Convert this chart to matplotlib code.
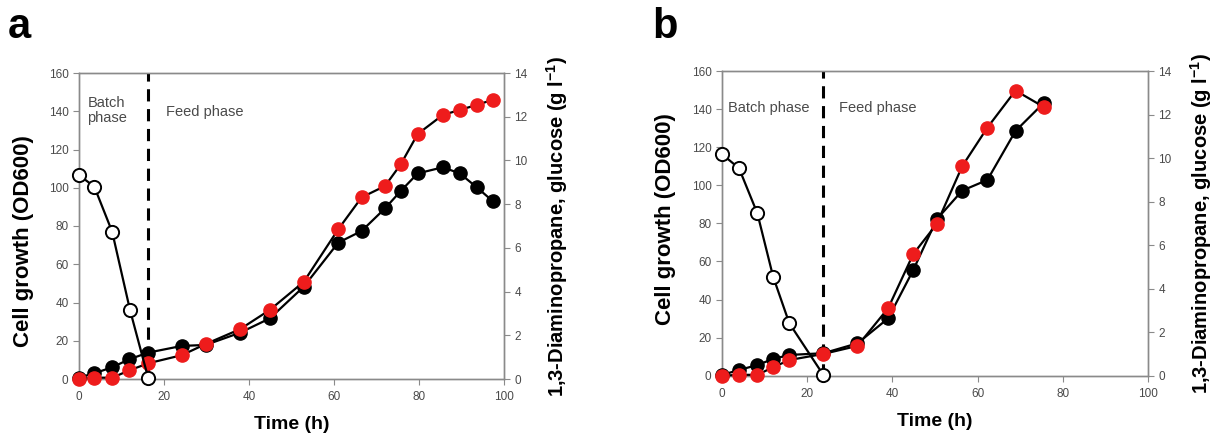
import matplotlib
matplotlib.use("Agg")
import matplotlib.pyplot as plt

plt.rcParams['font.family'] = ['Liberation Sans', 'DejaVu Sans']
plt.rcParams['mathtext.fontset'] = 'custom'
plt.rcParams['mathtext.rm'] = 'Liberation Sans'
plt.rcParams['mathtext.bf'] = 'Liberation Sans:bold'

# ---------------- Data ----------------
# Panel a
time_a = [0, 3.6, 7.8, 11.8, 16.3, 24.2, 29.8, 37.9, 44.9, 52.9, 61.0, 66.5, 72.0, 75.7, 79.7, 85.6, 89.6, 93.6, 97.3]
od_a = [0.7, 3.0, 6.1, 10.3, 13.8, 17.3, 17.8, 24.2, 31.7, 48.3, 71.3, 77.4, 89.2, 98.3, 107.5, 110.7, 107.5, 100.2, 93.1]
dap_a = [0.0, 0.06, 0.06, 0.39, 0.72, 1.09, 1.60, 2.28, 3.16, 4.45, 6.85, 8.31, 8.83, 9.82, 11.21, 12.08, 12.31, 12.54, 12.77]
glc_time_a = [0, 3.6, 7.8, 12.0, 16.3]
glc_a = [9.33, 8.80, 6.74, 3.16, 0.03]
feed_start_a = 16.3

# Panel b
time_b = [0, 4.0, 8.3, 12.0, 15.8, 23.8, 31.8, 39.0, 44.9, 50.4, 56.4, 62.3, 68.9, 75.6]
od_b = [0.4, 3.0, 5.6, 8.8, 10.9, 11.8, 17.0, 30.1, 55.5, 82.1, 97.2, 102.8, 128.5, 143.4]
dap_b = [0.0, 0.04, 0.04, 0.39, 0.72, 1.00, 1.37, 3.10, 5.59, 6.97, 9.63, 11.40, 13.10, 12.34]
glc_time_b = [0, 4.0, 8.3, 12.0, 15.8, 23.8]
glc_b = [10.18, 9.53, 7.46, 4.55, 2.41, 0.03]
feed_start_b = 23.8

x_ticks = [0, 20, 40, 60, 80, 100]
left_ticks = [0, 20, 40, 60, 80, 100, 120, 140, 160]
right_ticks = [0, 2, 4, 6, 8, 10, 12, 14]

W, H = 1213, 438
fig = plt.figure(figsize=(W / 100, H / 100), dpi=100)

GRAY = "#8a8a8a"
TXT = "#4a4a4a"


def panel(rect, t, od, dap, gt, glc, feed, batch_text, batch_pos, batch_ha, feed_pos, letter, letter_pos, ylab_coords):
    ax = fig.add_axes(rect)
    ax2 = ax.twinx()
    ax.set_xlim(0, 100)
    ax.set_ylim(0, 160)
    ax2.set_ylim(0, 14)
    ax.set_xticks(x_ticks)
    ax.set_yticks(left_ticks)
    ax2.set_yticks(right_ticks)
    for a in (ax, ax2):
        for s in a.spines.values():
            s.set_color(GRAY)
            s.set_linewidth(1.0)
        a.tick_params(colors=GRAY, labelcolor=TXT, labelsize=8.5, length=4, width=0.8, direction="out")
    ax.tick_params(axis="x", pad=5)
    ax.set_zorder(ax2.get_zorder() + 1)
    ax.patch.set_visible(False)

    ax.axvline(feed, color="black", lw=2.2, ls=(0, (4, 2.5)), zorder=2)

    ax.plot(t, od, "-o", color="black", lw=1.6, ms=9.5, mfc="black", mec="black", zorder=4, clip_on=False)
    sc = 160 / 14
    ax.plot(t, [v * sc for v in dap], "-o", color="black", lw=1.6, ms=9.5, mfc="#ee1c1c", mec="#ee1c1c", zorder=5, clip_on=False)
    ax.plot(gt, [v * sc for v in glc], "-o", color="black", lw=1.6, ms=9.5, mfc="white", mec="black", mew=1.4, zorder=6, clip_on=False)

    ax.text(batch_pos[0], batch_pos[1], batch_text, fontsize=10.5, color=TXT, ha=batch_ha, va="center",
            multialignment="center", linespacing=1.1)
    ax.text(feed_pos[0], feed_pos[1], "Feed phase", fontsize=10.5, color=TXT, ha="left", va="center")

    ax.set_xlabel("Time (h)", fontsize=14, fontweight="bold", labelpad=9)
    ax.set_ylabel("Cell growth (OD600)", fontsize=16, fontweight="bold")
    ax.yaxis.set_label_coords(*ylab_coords)
    ax2.set_ylabel("1,3-Diaminopropane, glucose (g l$^{\\mathbf{-1}}$)", fontsize=14.5, fontweight="bold", labelpad=12)
    fig.text(letter_pos[0] / W, 1 - letter_pos[1] / H, letter, fontsize=30, fontweight="bold", ha="left", va="baseline")
    return ax


panel([79 / W, 59 / H, 425 / W, 306 / H], time_a, od_a, dap_a, glc_time_a, glc_a, feed_start_a,
      "Batch\nphase", (6.5, 140.5), "center", (20.5, 139.5), "a", (8, 38), (-0.105, 0.45))
panel([722 / W, 62.3 / H, 426 / W, 304.7 / H], time_b, od_b, dap_b, glc_time_b, glc_b, feed_start_b,
      "Batch phase", (1.5, 140.5), "left", (27.5, 140.5), "b", (652, 38), (-0.108, 0.515))

fig.savefig("out.png", dpi=100)
